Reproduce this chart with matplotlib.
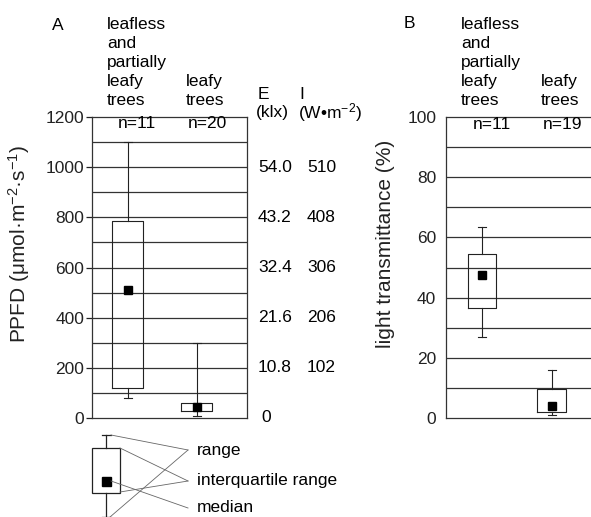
import matplotlib
matplotlib.use('Agg')
import matplotlib.pyplot as plt
from matplotlib.patches import Rectangle

plt.rcParams['font.family'] = ['Liberation Sans', 'DejaVu Sans']
plt.rcParams['mathtext.fontset'] = 'custom'
plt.rcParams['mathtext.rm'] = 'Liberation Sans'
plt.rcParams['mathtext.it'] = 'Liberation Sans:italic'

# panel A: PPFD (umol m-2 s-1)
groups = ['leafless\nand\npartially\nleafy\ntrees', 'leafy\ntrees']
ppfd_lo = [80, 9]
ppfd_q1 = [121, 27]
ppfd_med = [510, 45]
ppfd_q3 = [785, 61]
ppfd_hi = [1100, 300]
ppfd_n = ['n=11', 'n=20']
ppfd_ticks = [0, 200, 400, 600, 800, 1000, 1200]
klx_labels = ['0', '10.8', '21.6', '32.4', '43.2', '54.0']
wm2_labels = ['', '102', '206', '306', '408', '510']

# panel B: light transmittance (%)
tr_lo = [27, 1]
tr_q1 = [36.5, 2]
tr_med = [47.5, 4]
tr_q3 = [54.5, 9.6]
tr_hi = [63.5, 16]
tr_n = ['n=11', 'n=19']
tr_ticks = [0, 20, 40, 60, 80, 100]

W, H = 591, 517
FS = 12.5
FL = 15
fig = plt.figure(figsize=(W / 100, H / 100), dpi=100)


def px(x, y):
    return x / W, 1 - y / H


def stats(lo, q1, med, q3, hi):
    return [dict(whislo=lo[i], q1=q1[i], med=med[i], mean=med[i], q3=q3[i],
                 whishi=hi[i], fliers=[]) for i in range(len(lo))]


def boxes(ax, st, pos):
    ax.bxp(st, positions=pos, widths=0.2, capwidths=0.055, showmeans=True,
           showfliers=False, manage_ticks=False,
           boxprops=dict(color='#222222', linewidth=0.8),
           whiskerprops=dict(color='#222222', linewidth=0.8),
           capprops=dict(color='#222222', linewidth=0.8),
           medianprops=dict(linewidth=0),
           meanprops=dict(marker='s', markerfacecolor='black',
                          markeredgecolor='black', markersize=5.5),
           zorder=3)
    for s in ax.spines.values():
        s.set_color('#333333')
        s.set_linewidth(0.9)
    ax.tick_params(labelsize=FS, colors='#222222')


# ---- panel A
axA = fig.add_axes([92 / W, 1 - 418 / H, 155 / W, 301 / H])
axA.set_xlim(0, 1)
axA.set_ylim(0, 1200)
for v in range(100, 1200, 100):
    axA.axhline(v, color='#333333', lw=0.9, zorder=1)
boxes(axA, stats(ppfd_lo, ppfd_q1, ppfd_med, ppfd_q3, ppfd_hi), [0.232, 0.677])
axA.set_xticks([])
axA.set_yticks(ppfd_ticks)
axA.tick_params(axis='y', length=4, width=0.9, pad=1.5)
axA.set_ylabel('PPFD (μmol·m$^{-2}$·s$^{-1}$)', fontsize=FL, color='#222222')
axA.yaxis.set_label_coords(-0.39, 0.58)
for x, t in zip([0.29, 0.742], ppfd_n):
    axA.text(x, 1173, t, ha='center', va='center', fontsize=FS)
tr = axA.get_yaxis_transform()
for v, e, i in zip(ppfd_ticks, klx_labels, wm2_labels):
    axA.text(1.071 if e != '0' else 1.095, v, e, transform=tr, ha='left',
             va='center', fontsize=FS, clip_on=False)
    axA.text(1.387, v, i, transform=tr, ha='left', va='center', fontsize=FS,
             clip_on=False)

# ---- panel B
axB = fig.add_axes([446 / W, 1 - 418 / H, 150 / W, 301 / H])
axB.set_xlim(0, 150 / 144)
axB.set_ylim(0, 100)
for v in range(10, 100, 10):
    axB.axhline(v, color='#333333', lw=0.9, zorder=1)
boxes(axB, stats(tr_lo, tr_q1, tr_med, tr_q3, tr_hi), [0.25, 0.734])
axB.spines['right'].set_visible(False)
axB.set_xticks([])
axB.set_yticks(tr_ticks)
axB.tick_params(axis='y', length=0, pad=7)
axB.set_ylabel('light transmittance (%)', fontsize=FL, color='#222222')
axB.yaxis.set_label_coords(-0.34, 0.58)
for x, t in zip([0.32, 0.81], tr_n):
    axB.text(x, 97.5, t, ha='center', va='center', fontsize=FS)

# ---- headers
ls = 1.33
fig.text(*px(52, 25), 'A', fontsize=FS, va='center')
fig.text(*px(107, 108), groups[0], fontsize=FS, va='bottom', linespacing=ls)
fig.text(*px(186, 108), groups[1], fontsize=FS, va='bottom', linespacing=ls)
fig.text(*px(258, 94), 'E', fontsize=FS, va='center')
fig.text(*px(256, 113), '(klx)', fontsize=FS, va='center')
fig.text(*px(299, 94), 'I', fontsize=FS, va='center')
fig.text(*px(298, 113), '(W•m$^{-2}$)', fontsize=FS, va='center')
fig.text(*px(404, 23), 'B', fontsize=FS, va='center')
fig.text(*px(461, 108), groups[0], fontsize=FS, va='bottom', linespacing=ls)
fig.text(*px(541, 108), groups[1], fontsize=FS, va='bottom', linespacing=ls)

# ---- box key at the bottom
key = fig.add_axes([0, 0, 1, 1], zorder=-1)
key.set_xlim(0, W)
key.set_ylim(H, 0)
key.axis('off')
k = dict(color='#222222', lw=0.9)
key.add_patch(Rectangle((92, 448), 28, 45, fill=False, **k))
key.plot([106, 106], [435, 448], **k)
key.plot([106, 106], [493, 518], **k)
key.plot([102, 111], [435, 435], **k)
key.plot([102, 111], [517, 517], **k)
key.add_patch(Rectangle((101.5, 477), 9, 9, color='black'))
g = dict(color='#666666', lw=0.6)
key.plot([111, 188], [435, 450], **g)
key.plot([110, 188], [517, 450], **g)
key.plot([120, 188], [448, 481], **g)
key.plot([120, 188], [492, 481], **g)
key.plot([111, 188], [481, 508], **g)
key.text(197, 451, 'range', fontsize=FS, va='center')
key.text(197, 480, 'interquartile range', fontsize=FS, va='center')
key.text(197, 508, 'median', fontsize=FS, va='center')

fig.savefig('out.png', dpi=100)
